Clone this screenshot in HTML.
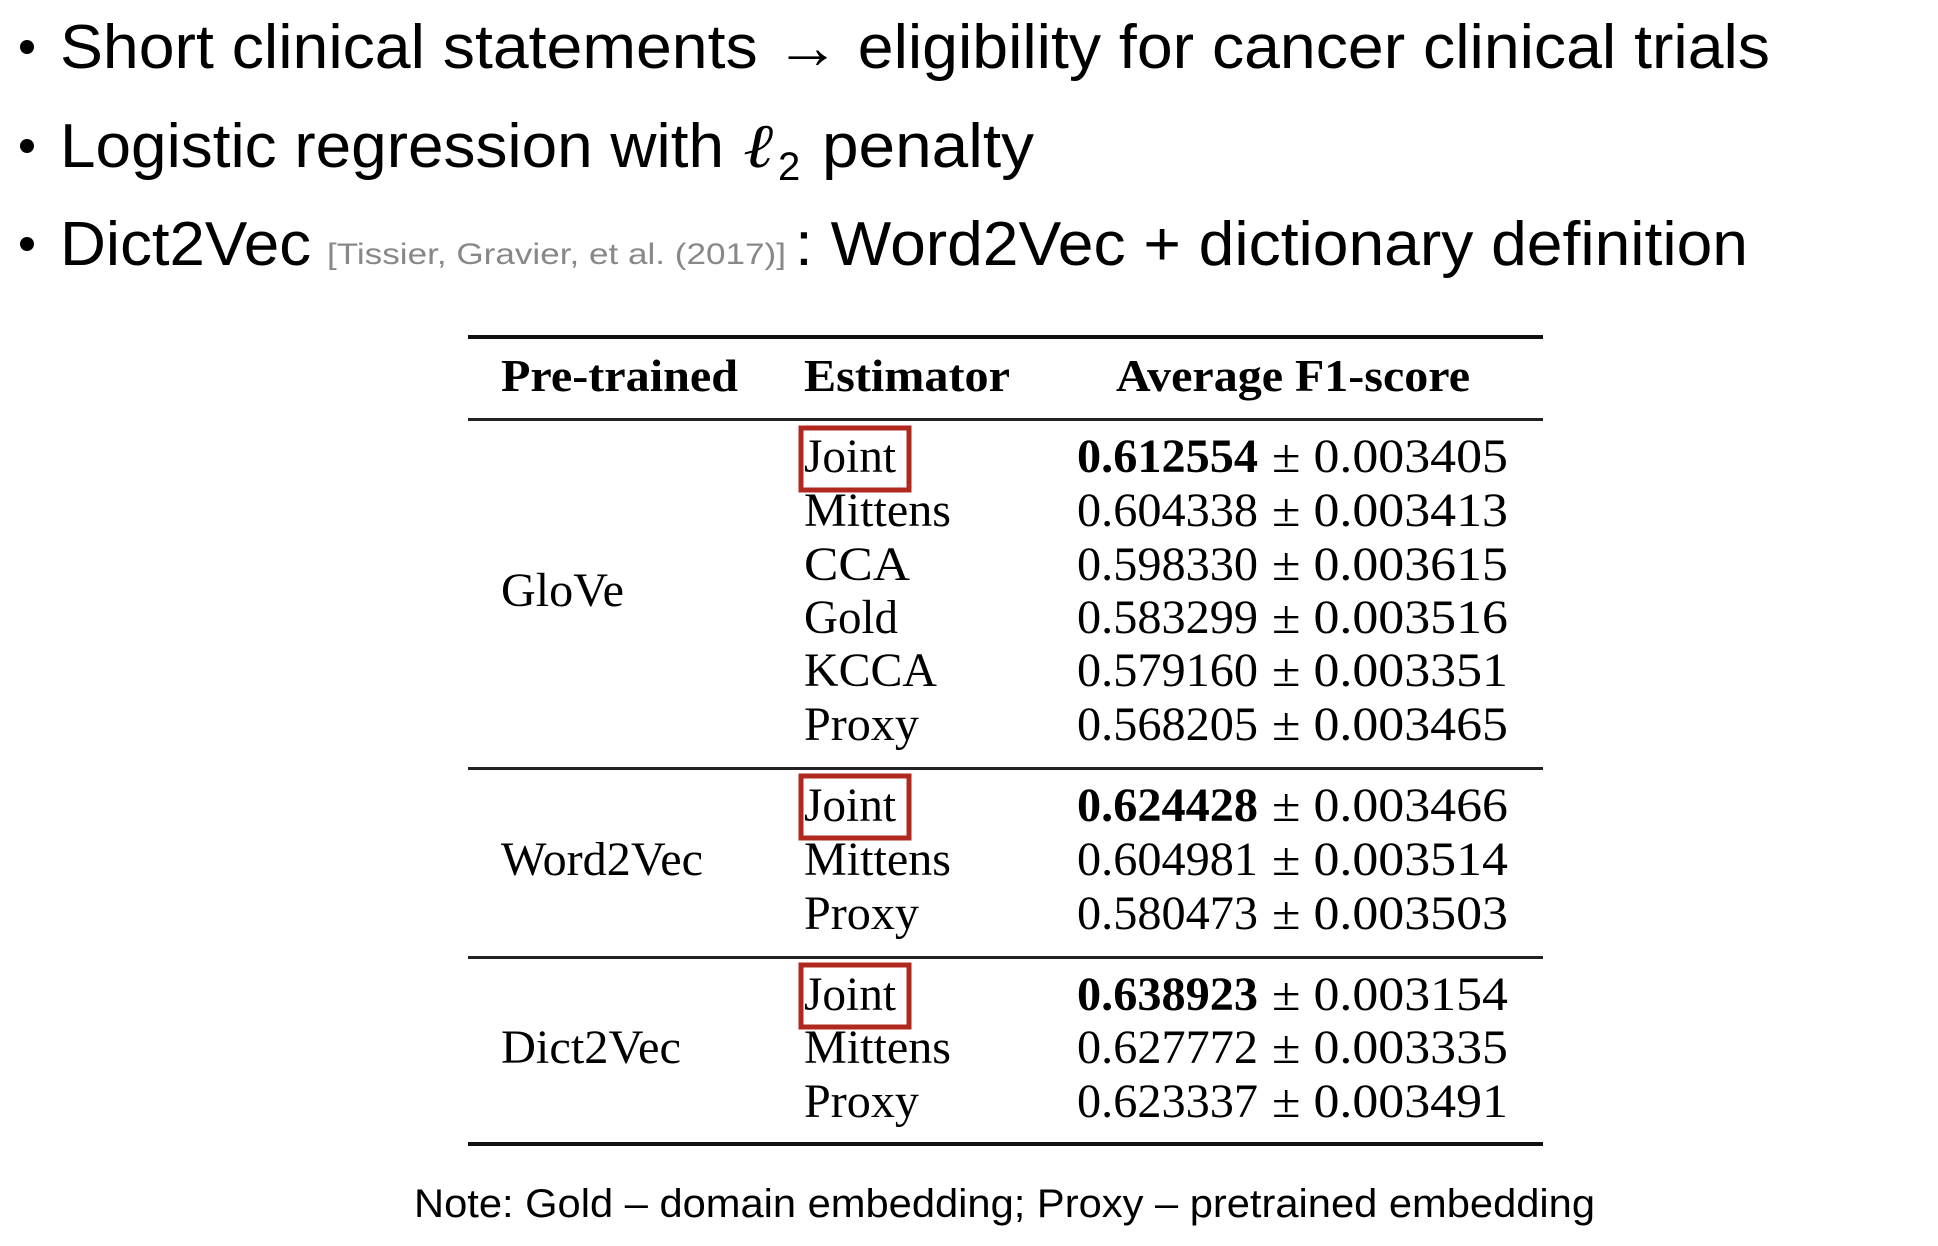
<!DOCTYPE html>
<html><head><meta charset="utf-8"><style>
html,body{margin:0;padding:0;background:#fff;}
svg{display:block;}
.b{font-family:"Liberation Sans",sans-serif;fill:#000;}
.s{font-family:"Liberation Serif",serif;fill:#000;}
</style></head><body>
<svg width="1938" height="1246" viewBox="0 0 1938 1246" xmlns="http://www.w3.org/2000/svg">
<rect width="1938" height="1246" fill="#fff"/>
<g>
<circle cx="27" cy="47" r="7" fill="#000"/>
<text class="b" x="60" y="68" font-size="62" textLength="1710" lengthAdjust="spacingAndGlyphs">Short clinical statements → eligibility for cancer clinical trials</text>
<circle cx="27" cy="146" r="7" fill="#000"/>
<text class="b" x="60" y="167" font-size="62" textLength="664" lengthAdjust="spacingAndGlyphs">Logistic regression with</text>
<text font-family="Liberation Serif,serif" font-style="italic" x="743" y="167" font-size="62" textLength="30" lengthAdjust="spacingAndGlyphs">ℓ</text>
<text class="b" x="778" y="180" font-size="40">2</text>
<text class="b" x="822" y="167" font-size="62" textLength="212" lengthAdjust="spacingAndGlyphs">penalty</text>
<circle cx="27" cy="244" r="7" fill="#000"/>
<text class="b" x="60" y="265" font-size="62" textLength="251" lengthAdjust="spacingAndGlyphs">Dict2Vec</text>
<text class="b" x="327" y="264" font-size="30" fill="#888" style="fill:#888" textLength="459" lengthAdjust="spacingAndGlyphs">[Tissier, Gravier, et al. (2017)]</text>
<text class="b" x="795" y="265" font-size="62" textLength="953" lengthAdjust="spacingAndGlyphs">: Word2Vec + dictionary definition</text>
</g>
<g>
<rect x="468" y="335" width="1075" height="4" fill="#111"/>
<text class="s" font-weight="bold" x="501" y="391" font-size="46" textLength="237" lengthAdjust="spacingAndGlyphs">Pre-trained</text>
<text class="s" font-weight="bold" x="804" y="391" font-size="46" textLength="206" lengthAdjust="spacingAndGlyphs">Estimator</text>
<text class="s" font-weight="bold" x="1116" y="391" font-size="46" textLength="354" lengthAdjust="spacingAndGlyphs">Average F1-score</text>
<rect x="468" y="418" width="1075" height="3" fill="#222"/>
<rect x="468" y="767" width="1075" height="3" fill="#222"/>
<rect x="468" y="956" width="1075" height="3" fill="#222"/>
<rect x="468" y="1142" width="1075" height="4" fill="#111"/>
<text class="s" x="501" y="606" font-size="48" textLength="123" lengthAdjust="spacingAndGlyphs">GloVe</text>
<text class="s" x="501" y="875" font-size="48" textLength="202" lengthAdjust="spacingAndGlyphs">Word2Vec</text>
<text class="s" x="501" y="1063" font-size="48" textLength="180" lengthAdjust="spacingAndGlyphs">Dict2Vec</text>
<g id="rows"></g>
<rect x="801" y="428" width="108" height="62" fill="none" stroke="#b0281e" stroke-width="5"/>
<rect x="801" y="776" width="108" height="62" fill="none" stroke="#b0281e" stroke-width="5"/>
<rect x="801" y="965" width="108" height="62" fill="none" stroke="#b0281e" stroke-width="5"/>
</g>
<text class="b" x="414" y="1217" font-size="40" textLength="1181" lengthAdjust="spacingAndGlyphs">Note: Gold – domain embedding; Proxy – pretrained embedding</text>
</svg>
<script>
const estimators=["Joint","Mittens","CCA","Gold","KCCA","Proxy","Joint","Mittens","Proxy","Joint","Mittens","Proxy"];
const means=["0.612554","0.604338","0.598330","0.583299","0.579160","0.568205","0.624428","0.604981","0.580473","0.638923","0.627772","0.623337"];
const stds=["0.003405","0.003413","0.003615","0.003516","0.003351","0.003465","0.003466","0.003514","0.003503","0.003154","0.003335","0.003491"];
const bold=[1,0,0,0,0,0,1,0,0,1,0,0];
const baselines=[472,526,580,633,686,740,821,875,929,1010,1063,1117];
const NS="http://www.w3.org/2000/svg";
const g=document.getElementById('rows');
const estW={Joint:92,Mittens:147,CCA:106,Gold:94,KCCA:133,Proxy:115};
estimators.forEach((e,i)=>{
  const t=document.createElementNS(NS,'text');
  
  
  t.setAttribute('class','s');t.setAttribute('x',804);t.setAttribute('y',baselines[i]);
  t.setAttribute('font-size',48);t.setAttribute('textLength',estW[e]);t.setAttribute('lengthAdjust','spacingAndGlyphs');
  t.textContent=e;g.appendChild(t);
  const m=document.createElementNS(NS,'text');
  
  
  m.setAttribute('class','s');m.setAttribute('x',1077);m.setAttribute('y',baselines[i]);
  m.setAttribute('font-size',48);m.setAttribute('textLength',181);m.setAttribute('lengthAdjust','spacingAndGlyphs');
  if(bold[i])m.setAttribute('font-weight','bold');
  m.textContent=means[i];g.appendChild(m);
  const s=document.createElementNS(NS,'text');
  
  
  s.setAttribute('class','s');s.setAttribute('x',1272);s.setAttribute('y',baselines[i]);
  s.setAttribute('font-size',48);s.setAttribute('textLength',236);s.setAttribute('lengthAdjust','spacingAndGlyphs');
  s.textContent='± '+stds[i];g.appendChild(s);
});
</script>
</body></html>
